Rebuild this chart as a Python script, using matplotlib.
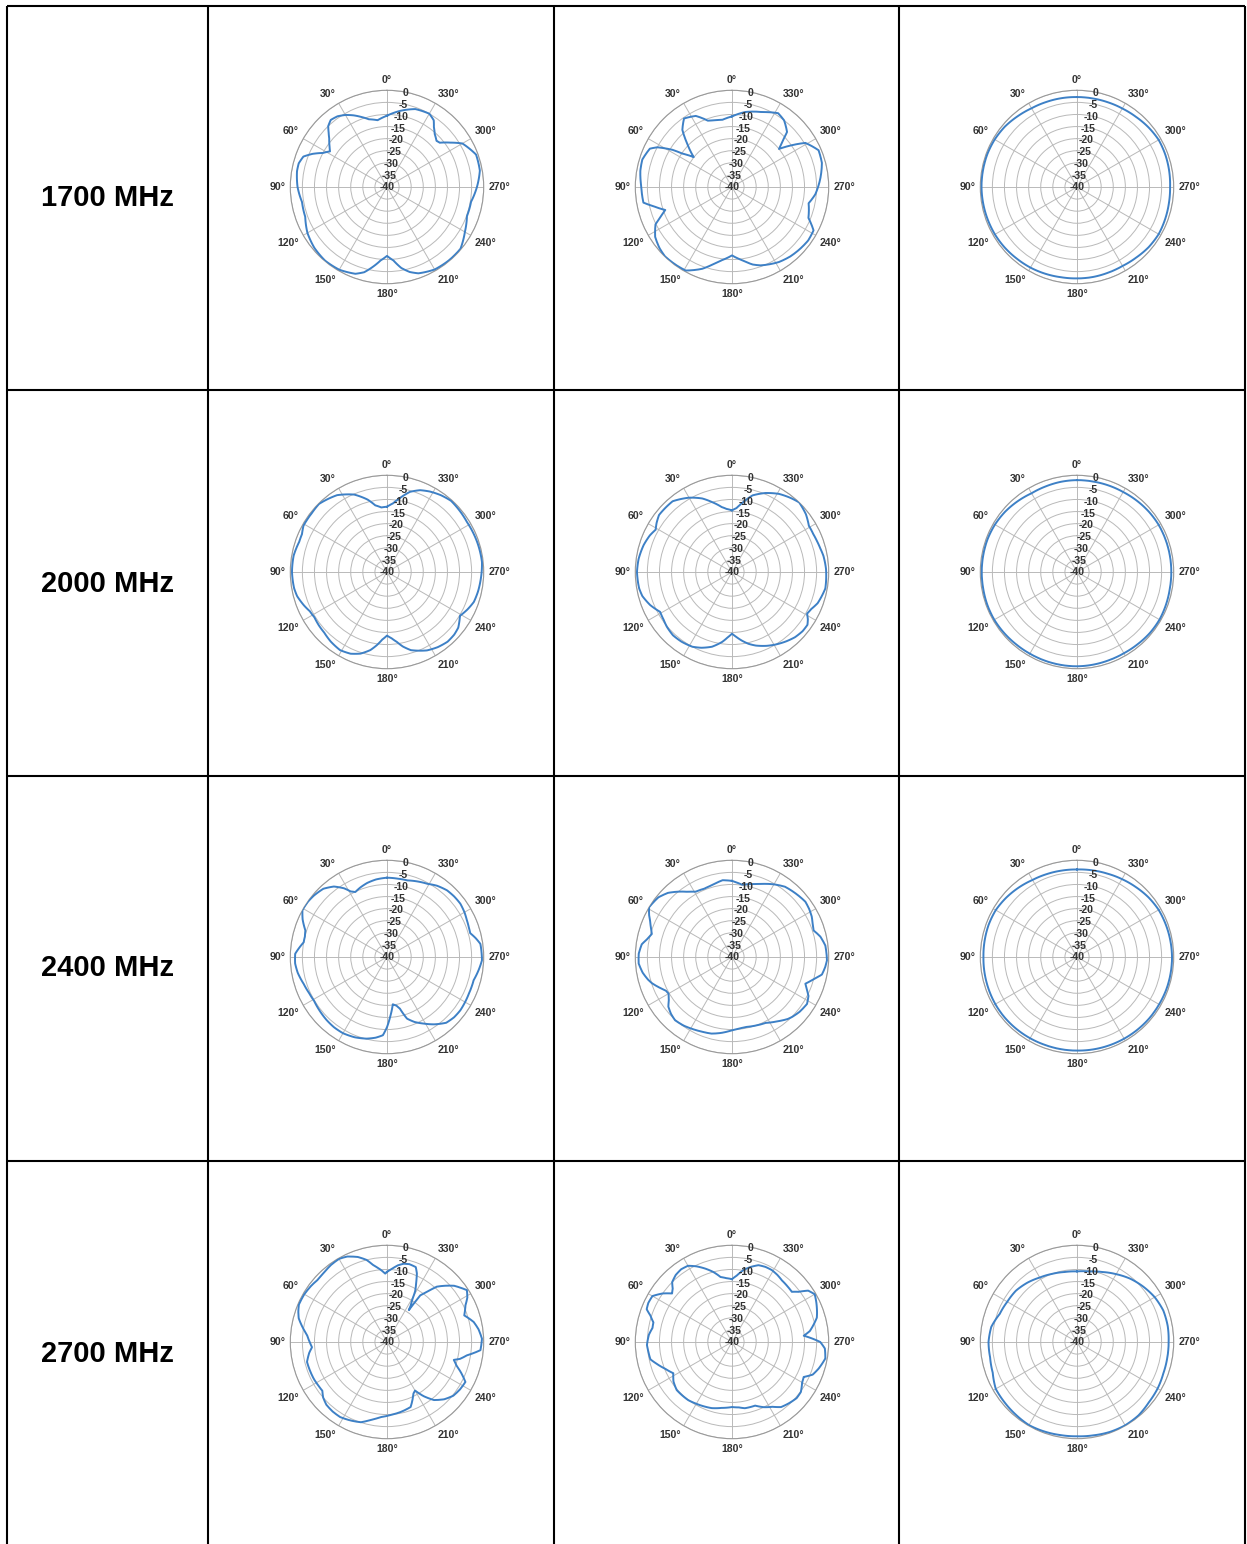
import matplotlib.pyplot as plt
import numpy as np

W, H, DPI = 1247, 1544, 100

freqs = ["1700 MHz", "2000 MHz", "2400 MHz", "2700 MHz"]

# --- 1700 MHz -------------------------------------------------------------
deg_1700_1 = [0, 8, 15, 20, 25, 30, 35, 40, 44, 47, 50, 55, 58, 62, 66, 70, 75, 80,
              90, 100, 110, 120, 130, 140, 150, 160, 165, 170, 175, 180, 185, 190,
              195, 200, 210, 220, 230, 240, 250, 260, 270, 280, 290, 300, 305, 310,
              313, 318, 322, 325, 330, 340, 350]
db_1700_1 = [-10.5, -12.1, -11, -9.2, -7.3, -5.6, -4.3, -3.8, -5, -7, -8.8, -11, -12.2,
             -10, -6.3, -3.2, -2.2, -2.2, -3, -4.3, -4, -2, -0.8, -0.2, -0.5, -1.8,
             -3.5, -6.5, -9.5, -11.5, -9.5, -6, -3.6, -2, -0.6, -0.3, -0.3, -2.8,
             -4.8, -4.7, -2.8, -1, -0.8, -4, -8, -11.5, -12, -10.5, -8.5, -6.3, -5,
             -5.7, -8]

deg_1700_2 = [0, 8, 15, 20, 27, 35, 41, 46, 52, 56, 58, 62, 65, 73, 80, 90, 100, 104,
              109, 113, 116, 123, 130, 136, 145, 151, 160, 166, 172, 180, 188, 195,
              200, 212, 220, 227, 235, 242, 248, 258, 265, 276, 285, 293, 301, 305,
              309, 312.5, 315, 322, 328, 338, 350]
db_1700_2 = [-10.8, -11.9, -11.5, -10.8, -7, -5.4, -8.7, -14.3, -19.9, -15.3, -11, -5,
             -2.5, -1.2, -1.5, -2.5, -2.8, -6.8, -10.8, -7.8, -4.8, -2.1, -0.8, -0.1,
             -0.3, -0.5, -4, -7, -9.4, -11.7, -9.4, -6.8, -5.5, -3.4, -2.5, -2, -1.5,
             -1.8, -5.9, -7.6, -5.4, -3.2, -1.5, -1.1, -4.6, -9.9, -15, -11.5, -7.8,
             -5, -4, -6.6, -8.5]

deg_1700_3 = list(range(0, 360, 10))
db_1700_3 = [-2.8, -2.7, -2.6, -2.4, -1.8, -1.1, -0.7, -0.5, -0.5, -0.5, -0.6, -0.7,
             -0.8, -1.0, -1.3, -1.5, -1.8, -2.1, -2.2, -2.2, -2.3, -2.3, -1.9, -1.3,
             -1.0, -1.2, -1.4, -1.5, -1.3, -1.1, -1.0, -1.5, -2.1, -2.5, -2.7, -2.8]

# --- 2000 MHz -------------------------------------------------------------
deg_2000_1 = [0, 5, 10, 15, 23, 33, 45, 52, 61, 66, 71, 80, 90, 100, 105, 112, 117,
              122, 128, 134, 141, 149, 156, 162, 168, 172, 176, 180, 184, 188, 192,
              197, 207, 214, 221, 227, 232, 239, 245, 251, 258, 264, 276, 288, 302,
              318, 325, 332, 338, 344, 350, 355]
db_2000_1 = [-13, -13.2, -12, -9, -5.2, -2.1, -0.2, -0.5, -0.5, -1.5, -1.6, -0.8, -0.7,
             -1, -1.5, -3, -4.2, -4.6, -4.2, -3.9, -3, -2.3, -3, -4.5, -7, -9.4, -12,
             -13.7, -12.5, -10.8, -8.5, -6.2, -3.6, -2.5, -1.8, -2, -2.6, -4.8, -3.3,
             -2, -1.5, -1.2, -0.5, -0.7, -1, -0.4, -1.2, -2.3, -3.5, -5.5, -8.9, -11.5]

deg_2000_2 = [0, 5, 9, 16, 22, 30, 40, 52, 57, 61, 66, 73, 82, 90, 100, 105, 112, 119,
              125, 130, 137, 144, 152, 158, 165, 172, 176, 180, 184, 188, 193, 198,
              205, 211, 218, 224, 230, 235, 238, 241, 245, 250, 260, 272, 280, 285,
              290, 295, 301, 308, 316, 322, 329, 337, 345, 352, 356]
db_2000_2 = [-14.5, -13.8, -12.8, -9.9, -7.2, -4.5, -1.8, -1.7, -2.8, -3.9, -2.8, -1.8,
             -1, -0.7, -1, -1.6, -3.5, -6, -5.5, -4.8, -4.2, -4.4, -5, -6.2, -8, -10.8,
             -12.8, -14.5, -13, -11.4, -9.5, -8, -6.3, -5, -3.6, -2.5, -1.9, -1.9, -3,
             -4.5, -3.8, -2.3, -0.8, -1.1, -1.6, -2.2, -2.6, -2.9, -2.9, -1.2, 0, -1,
             -2.3, -4.5, -7.2, -11.4, -13.5]

deg_2000_3 = list(range(0, 360, 10))
db_2000_3 = [-2, -2.1, -2.3, -2.4, -1.8, -1.2, -0.8, -0.6, -0.6, -0.6, -0.6, -0.5,
             -0.5, -0.7, -0.9, -1, -1, -1, -1, -1.1, -1.2, -1.2, -1, -0.7, -0.6, -0.8,
             -1, -1, -1, -1, -1, -1.2, -1.5, -1.8, -1.9, -2]

# --- 2400 MHz -------------------------------------------------------------
deg_2400_1 = [0, 8, 15, 21, 26, 29, 32, 37, 43, 50, 55, 61, 66, 72, 76, 80, 84, 88,
              94, 100, 108, 115, 121, 128, 136, 143, 150, 158, 166, 172, 177, 180,
              183, 187, 191, 194, 198, 203, 209, 215, 222, 228, 234, 240, 246, 255,
              262, 268, 278, 282, 286, 290, 295, 300, 306, 312, 318, 325, 331, 338,
              345, 352]
db_2400_1 = [-7.2, -7.6, -8.3, -9.2, -10.1, -9, -6.5, -3.5, -1.4, -0.5, -0.1, 0, -1.8,
             -4.5, -5, -5, -3.5, -2, -1.9, -2.5, -3.8, -4.5, -4.8, -4.4, -3.9, -3.6,
             -3.6, -4.2, -5.2, -6.3, -7.6, -11, -15.2, -20.3, -19.5, -18, -13.2, -10.8,
             -8.5, -6, -3.4, -2.7, -2.5, -2.7, -2.9, -2.9, -1.7, -0.7, -1, -2.5, -4.2,
             -4, -3.6, -3, -2.5, -2.6, -2.9, -4, -5.4, -6.3, -7.2, -7.3]

deg_2400_2 = [0, 3, 7, 12, 16, 22, 29, 34, 39, 45, 51, 59, 63, 66, 70, 74, 78, 82, 88,
              94, 100, 105, 108, 113, 117, 120, 124, 128, 133, 138, 145, 151, 158,
              165, 172, 180, 186, 191, 199, 207, 215, 222, 225, 231, 238, 243, 247,
              250, 254, 259, 264, 268, 277, 283, 288, 292, 297, 302, 307, 315, 323,
              330, 338, 345, 352, 356]
db_2400_2 = [-8.5, -8.3, -8, -8.7, -9.2, -9.5, -9.1, -7.5, -5.2, -2.5, -0.8, 0, -1.5,
             -2.9, -4.3, -5.5, -4.2, -2.3, -1.4, -1.3, -2.5, -4, -5.1, -7.5, -9.3,
             -9.7, -8.5, -6.6, -5.5, -4.8, -5.3, -6, -6.7, -7.2, -8.3, -9.7, -10.3,
             -10.5, -10, -9.4, -7.5, -5.5, -4.9, -4, -3.4, -4.5, -6.5, -7.7, -5.5,
             -2.1, -1.2, -0.7, -1.1, -2.5, -4.5, -4, -3, -2.4, -2, -2.8, -3.6, -5.3,
             -7.4, -8.8, -9.8, -9.2]

deg_2400_3 = list(range(0, 360, 10))
db_2400_3 = [-3.8, -3.7, -3.5, -3.2, -2.5, -1.8, -1.2, -1.1, -1.2, -1.3, -1.2, -1.1,
             -1.0, -1.0, -1.1, -1.2, -1.3, -1.3, -1.3, -1.2, -1.1, -1.0, -0.9, -0.8,
             -0.8, -0.7, -0.7, -0.7, -0.8, -0.9, -1.0, -1.5, -2.2, -2.8, -3.3, -3.6]

# --- 2700 MHz -------------------------------------------------------------
deg_2700_1 = [0, 1.5, 5, 10, 14, 19, 25, 30, 36, 42, 48, 53, 60, 67, 71, 75, 80, 85,
              90, 94, 98, 104, 110, 117, 121, 127, 131, 136, 142, 148, 155, 162, 168,
              175, 183, 191, 196, 200, 204, 207, 210, 214, 219, 225, 231, 237, 243,
              248, 251, 255, 257, 260.5, 265, 272, 278, 283, 289, 295, 299, 303, 306,
              310, 314, 318, 321, 324.5, 325.6, 327, 329, 331, 334, 336.5, 339, 344,
              348, 352, 356]
db_2700_1 = [-11, -11.7, -10, -7.8, -5, -2.8, -1, -0.3, -0.6, -1.2, -1.5, -1, -0.5,
             -0.4, -1.2, -2.2, -4.5, -6.8, -8, -8.9, -7.5, -5.9, -6, -6.1, -6.3, -6.5,
             -5, -3.9, -3.5, -3.4, -4.2, -5.1, -7, -8.8, -9.8, -10.5, -11, -11.4, -14,
             -16, -16.8, -13, -9.1, -6.5, -4.7, -4, -3.6, -7.2, -9.5, -11.4, -9, -6.5,
             -1.2, -0.7, -1.8, -3.2, -6.2, -4.2, -2, -0.6, -2, -3.8, -6.5, -9.2, -13,
             -16.3, -24, -22, -19.9, -16, -12.4, -9, -6.8, -6.5, -6.9, -8, -9.6]

deg_2700_2 = [0, 5, 10, 15, 20, 25, 30, 35, 40, 45, 48, 51, 55, 60, 65, 69, 72, 76, 80,
              85, 92, 97, 102, 106, 112, 118, 124, 131, 137, 143, 150, 157, 163, 171,
              180, 186, 191, 200, 206, 212, 217, 223, 229, 234, 240, 244, 248, 253,
              260, 266, 270, 273, 275, 278, 282, 286, 289, 295, 300, 304, 307, 310,
              315, 321, 326, 331, 336, 341, 346, 351, 356]
db_2700_2 = [-14, -13.5, -12.7, -10, -7.7, -5.5, -3.6, -3.3, -3.8, -5, -7, -8.1, -5, -2,
             -1.8, -2.2, -4.5, -6.5, -6.6, -5.5, -4.8, -5.2, -5.5, -7.5, -10.3, -12.5,
             -10.8, -9.7, -9.8, -9.9, -10.5, -11, -11.4, -12.4, -13.1, -12.8, -12.1,
             -12, -10, -8.4, -6.3, -5.4, -4.6, -4.8, -6.5, -7, -4, -2.5, -0.8, -1.5,
             -3.5, -7.5, -10.2, -7.5, -5.5, -3.5, -2.8, -1.5, -0.5, -2, -5.5, -7.7,
             -7.5, -7.2, -6.5, -6, -6, -6.4, -8, -9.9, -12.5]

deg_2700_3 = list(range(0, 360, 10))
db_2700_3 = [-10.8, -10.6, -10, -9.2, -8, -7, -6.7, -6, -4, -3.4, -3.5, -2.9, -1.2, -1,
             -0.7, -0.3, -0.6, -0.9, -1, -0.8, -0.4, -0.2, -0.4, -1.2, -1.5, -2, -2.1,
             -2.1, -1.9, -2, -2.9, -4.3, -5.8, -7.6, -9.2, -10.4]

patterns = [
    [(deg_1700_1, db_1700_1), (deg_1700_2, db_1700_2), (deg_1700_3, db_1700_3)],
    [(deg_2000_1, db_2000_1), (deg_2000_2, db_2000_2), (deg_2000_3, db_2000_3)],
    [(deg_2400_1, db_2400_1), (deg_2400_2, db_2400_2), (deg_2400_3, db_2400_3)],
    [(deg_2700_1, db_2700_1), (deg_2700_2, db_2700_2), (deg_2700_3, db_2700_3)],
]

r_ticks = list(range(-40, 1, 5))
theta_ticks = list(range(0, 360, 30))

# table layout (pixels)
col_edges = [7, 208, 554, 899, 1245]
row_edges = [6, 390, 776, 1161]
row_h = 385
plot_cx = [387, 732, 1077]
plot_cy = [187, 572, 957, 1342]
R = 96.7

LINE = "#3d80c6"
TXT = "#333333"
FS = 7.6
GAP = 3.6  # points between the outer ring and the angle labels

plt.rcParams["font.family"] = ["Liberation Sans", "DejaVu Sans"]

fig = plt.figure(figsize=(W / DPI, H / DPI), dpi=DPI)
fig.patch.set_facecolor("white")

# table grid and row titles
bg = fig.add_axes([0, 0, 1, 1])
bg.set_xlim(0, W)
bg.set_ylim(H, 0)
bg.axis("off")
for x in col_edges:
    bg.plot([x, x], [row_edges[0], H], color="black", lw=1.5, solid_capstyle="butt")
for y in row_edges:
    bg.plot([col_edges[0], col_edges[-1]], [y, y], color="black", lw=1.5,
            solid_capstyle="butt")
for i, f in enumerate(freqs):
    bg.text((col_edges[0] + col_edges[1]) / 2, row_edges[0] + row_h * (i + 0.5), f,
            ha="center", va="center", fontsize=21, fontweight="bold", color="black")


def angle_label(ax, t):
    rad = np.deg2rad(t)
    dx, dy = -np.sin(rad), np.cos(rad)
    if t in (0, 180):
        ha = "center"
    else:
        ha = "right" if t < 180 else "left"
    if t in (90, 270):
        va = "center"
    else:
        va = "bottom" if (t < 90 or t > 270) else "top"
    ax.annotate(f"{t}\u00b0", xy=(rad, 0), xytext=(GAP * dx, GAP * dy),
                textcoords="offset points", ha=ha, va=va, fontsize=FS,
                fontweight="bold", color=TXT, annotation_clip=False)


def polar_panel(cx, cy, deg, db):
    ax = fig.add_axes([(cx - R) / W, 1 - (cy + R) / H, 2 * R / W, 2 * R / H],
                      projection="polar")
    ax.set_theta_zero_location("N")
    ax.set_theta_direction(1)
    ax.set_ylim(-40, 0)
    ax.set_yticks(r_ticks)
    ax.set_yticklabels([])
    ax.set_xticks(np.deg2rad(theta_ticks))
    ax.set_xticklabels([])
    ax.grid(True, color="#b9b9b9", lw=0.7)
    ax.spines["polar"].set_color("#999999")
    ax.spines["polar"].set_linewidth(0.8)

    th = np.deg2rad(np.append(deg, deg[0] + 360))
    r = np.append(db, db[0])
    (ln,) = ax.plot(th, r, color=LINE, lw=1.4, solid_joinstyle="round", zorder=3)
    # connect readings along polar arcs rather than straight chords
    ln.get_path()._interpolation_steps = 12

    for t in theta_ticks:
        angle_label(ax, t)

    for v in r_ticks:
        if v == -40:
            ax.text(0.5, 0.5, str(v), transform=ax.transAxes, ha="center",
                    va="center", fontsize=FS, fontweight="bold", color=TXT, zorder=4)
        else:
            ax.text(np.deg2rad(-11), v - 0.4, str(v), ha="center", va="center",
                    fontsize=FS, fontweight="bold", color=TXT, zorder=4)


for i, row in enumerate(patterns):
    for j, (deg, db) in enumerate(row):
        polar_panel(plot_cx[j], plot_cy[i], deg, db)

fig.savefig("out.png", dpi=DPI)
